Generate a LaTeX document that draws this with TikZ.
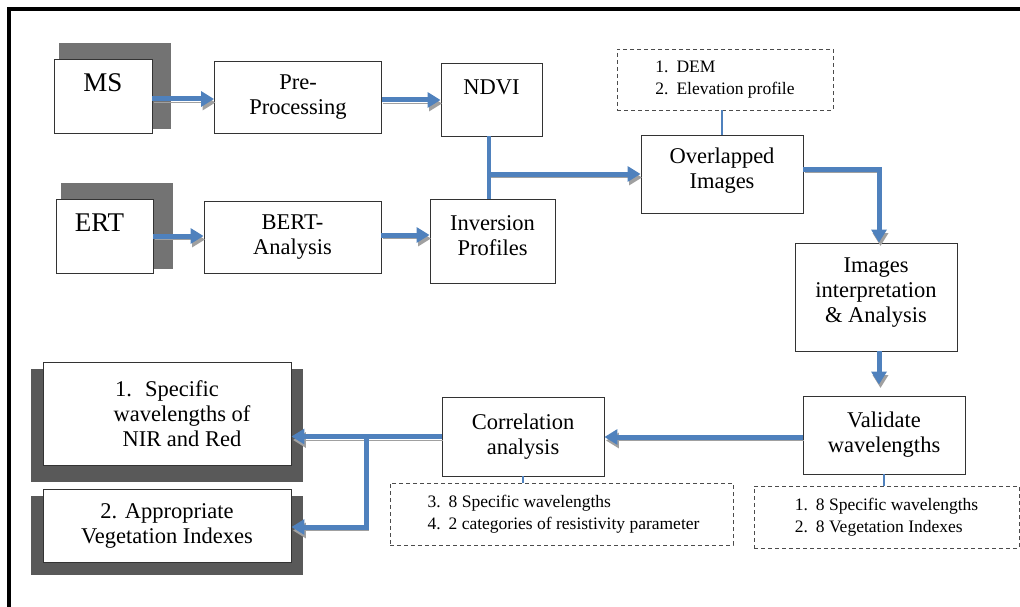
\documentclass[tikz,border=0pt]{standalone}
\usepackage{fontspec}
\setmainfont{Liberation Serif}
\usetikzlibrary{arrows.meta}
\definecolor{flowblue}{HTML}{4F81BD}
\definecolor{shadowgray}{HTML}{A0A0A0}
\definecolor{srcgray}{HTML}{737373}
\definecolor{resgray}{HTML}{595959}
\begin{document}
\begin{tikzpicture}[x=1pt,y=-1pt,
  box/.style={draw=black!80,line width=0.9pt,fill=white,align=center,inner sep=0pt,font=\fontsize{22.5}{25}\selectfont},
  note/.style={draw=black!70,line width=0.9pt,dash pattern=on 4pt off 3pt,inner sep=0pt,font=\fontsize{17.5}{22}\selectfont},
  flow/.style={draw=flowblue,line width=5pt,-{Triangle[length=13pt,width=15pt]},preaction={draw=shadowgray,transform canvas={shift={(1.5pt,-3.5pt)}}}},
  link/.style={draw=flowblue,line width=1.5pt}]
\useasboundingbox (0,0) rectangle (1020,607);
\draw[line width=4pt] (8.8,607) -- (8.8,9.3) -- (1020,9.3);
% sources with shadows
\fill[srcgray] (59,43) rectangle (171,129);
\fill[srcgray] (61,183) rectangle (173,269);
\node[box,minimum width=98pt,minimum height=74pt,font=\fontsize{27}{27}\selectfont] (ms) at (103,96) {MS\\~};
\node[box,minimum width=97pt,minimum height=74pt,font=\fontsize{27}{27}\selectfont] (ert) at (104.5,236) {ERT\hspace*{10pt}\\~};
\node[box,minimum width=167pt,minimum height=72pt] (pre) at (298,97) {Pre-\\Processing};
\node[box,minimum width=101pt,minimum height=73pt] (ndvi) at (491.5,99.5) {NDVI\\~};
\node[box,minimum width=177pt,minimum height=72pt] (bert) at (292.5,237) {BERT-\\Analysis};
\node[box,minimum width=125pt,minimum height=84pt] (inv) at (492.5,241) {Inversion\\Profiles\\[-14pt]~};
\node[note,minimum width=216pt,minimum height=61pt] (dem) at (725,79.5) {\begin{tabular}{@{}l@{\hspace{8pt}}l@{}}1. & DEM\\2. & Elevation profile\end{tabular}};
\node[box,minimum width=162pt,minimum height=78pt] (over) at (722,174) {Overlapped\\Images\\[-14pt]~};
\node[box,minimum width=162pt,minimum height=108pt] (interp) at (876,297) {Images\\interpretation\\\&~Analysis\\[-12pt]~};
\node[box,minimum width=162pt,minimum height=78pt] (valid) at (884,435) {Validate\\wavelengths};
\node[note,minimum width=265pt,minimum height=62pt] (validnote) at (886.5,517) {\begin{tabular}{@{}l@{\hspace{8pt}}l@{}}1. & 8 Specific wavelengths\\2. & 8 Vegetation Indexes\end{tabular}};
\node[box,minimum width=162pt,minimum height=79pt] (corr) at (523,436.5) {Correlation\\analysis};
\node[note,minimum width=343pt,minimum height=62pt] (corrnote) at (561.5,514) {\hspace*{4pt}\begin{tabular}{@{}l@{\hspace{8pt}}l@{}}3. & 8 Specific wavelengths\\4. & 2 categories of resistivity parameter\end{tabular}};
% results with shadows
\fill[resgray] (31,369) rectangle (303,482);
\fill[resgray] (31,496) rectangle (303,575);
\node[box,minimum width=248pt,minimum height=103pt] (res1) at (167,413.5) {1.\hspace{13pt}Specific\\\hspace*{30pt}wavelengths of\\\hspace*{30pt}NIR and Red};
\node[box,minimum width=248pt,minimum height=73pt] (res2) at (167,525.5) {2. Appropriate\\Vegetation Indexes};
% connectors
\draw[flow] ([yshift=-3pt]ms.east) -- ([yshift=-3pt]ms.east -| pre.west);
\draw[flow] ([yshift=-3pt]pre.east) -- ([yshift=-3pt]pre.east -| ndvi.west);
\draw[flow] (ert.east) -- (ert.east -| bert.west);
\draw[flow] ([yshift=2pt]bert.east) -- ([yshift=2pt]bert.east -| inv.west);
\draw[flowblue,line width=4pt] ([xshift=-2.5pt]ndvi.south) -- ([xshift=-2.5pt]ndvi.south |- inv.north);
\coordinate (split) at ([xshift=-2.5pt]ndvi.south |- over.west);
\draw[flow] (split) -- (over.west);
\draw[link] (over.north |- dem.south) -- (over.north);
\draw[flow] ([yshift=5pt]over.east) -| ([xshift=3pt]interp.north);
\draw[flow,shorten >=11pt] ([xshift=3pt]interp.south) -- ([xshift=3pt]interp.south |- valid.north);
\draw[flow] ([yshift=-2pt]valid.west) -- ([yshift=-2pt]valid.west -| corr.east);
\draw[link] (valid.south) -- (valid.south |- validnote.north);
\draw[link] (corr.south) -- (corr.south |- corrnote.north);
\draw[flow] (corr.west) -- (corr.west -| res1.east);
\coordinate (fork) at ([xshift=-75pt]corr.west);
\draw[flow] (fork) |- ([yshift=-1.5pt]res2.east);
\end{tikzpicture}
\end{document}
